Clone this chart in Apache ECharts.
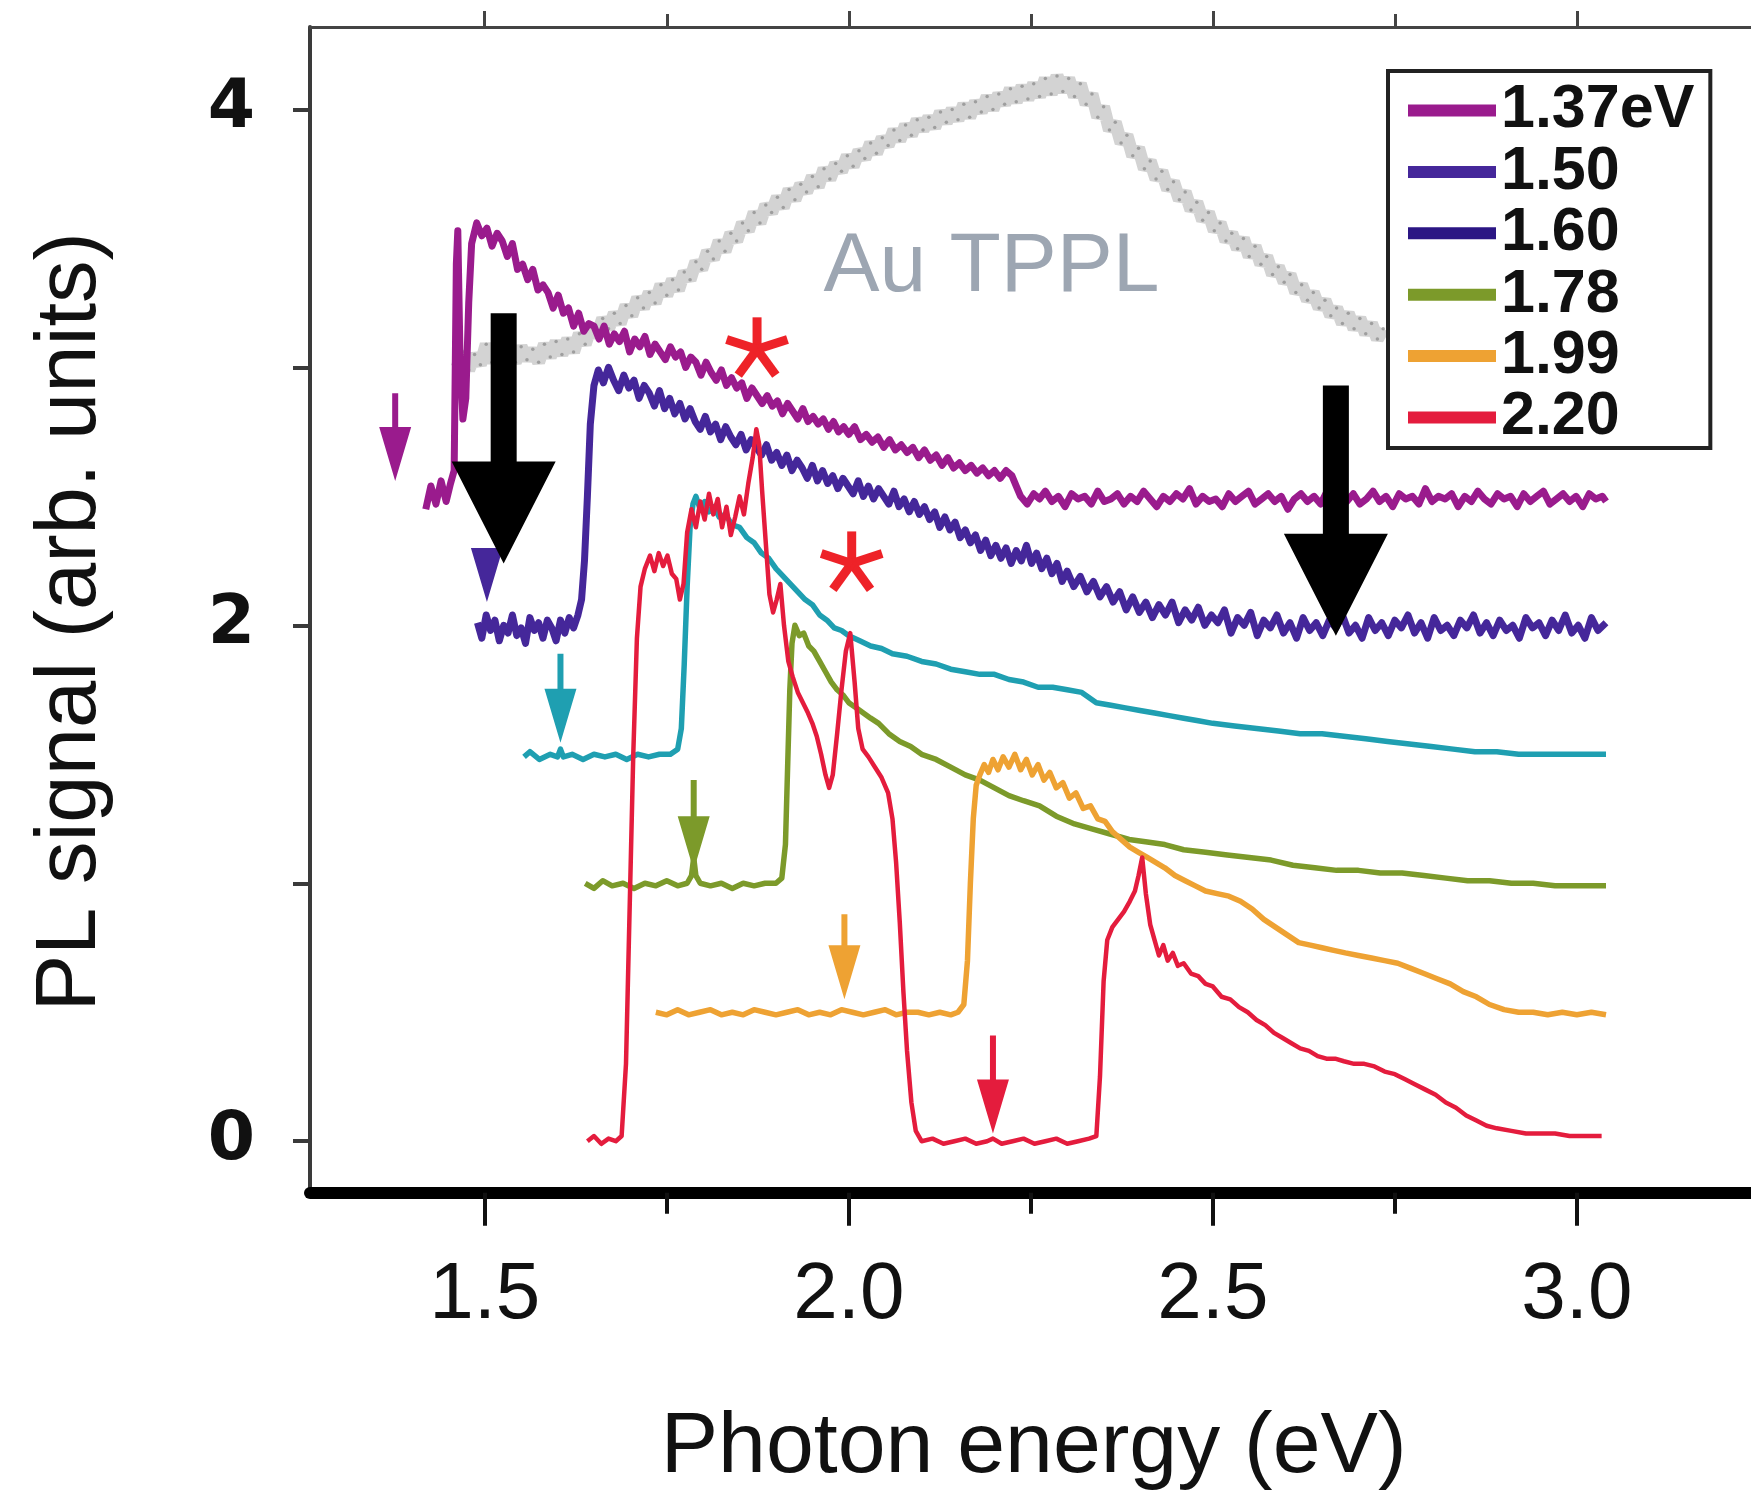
<!DOCTYPE html>
<html>
<head>
<meta charset="utf-8">
<script src="https://cdn.jsdelivr.net/npm/echarts@6/dist/echarts.min.js"></script>
<style>
  html, body { margin: 0; padding: 0; background: #fff; }
  #chart { width: 1751px; height: 1496px; }
</style>
</head>
<body>
<div id="chart"></div>
<script>
// axis ticks
const EV_TICKS = [1.5, 2.0, 2.5, 3.0];
const EV_MINOR = [1.75, 2.25, 2.75];
const PL_LABELS = [0, 2, 4];
const PL_TICKS = [0, 1, 2, 3, 4];

// excitation energies (legend names)
const SERIES_NAMES = ['1.37eV', '1.50', '1.60', '1.78', '1.99', '2.20'];

// PL spectra, [photon energy eV, signal]
const pl137 = [[1.419,2.45],[1.426,2.54],[1.433,2.47],[1.440,2.56],[1.447,2.48],[1.453,2.55],[1.458,2.60],[1.461,3.40],[1.463,3.53],[1.466,3.05],[1.470,2.80],[1.474,2.88],[1.478,3.25],[1.482,3.48],[1.489,3.56],[1.496,3.51],[1.503,3.54],[1.510,3.47],[1.517,3.52],[1.524,3.49],[1.531,3.43],[1.538,3.48],[1.545,3.38],[1.552,3.40],[1.559,3.34],[1.566,3.38],[1.573,3.30],[1.580,3.32],[1.587,3.29],[1.594,3.23],[1.601,3.28],[1.608,3.21],[1.615,3.23],[1.622,3.16],[1.629,3.21],[1.636,3.14],[1.643,3.17],[1.650,3.16],[1.657,3.11],[1.664,3.16],[1.671,3.09],[1.678,3.13],[1.685,3.10],[1.692,3.14],[1.699,3.06],[1.706,3.11],[1.713,3.08],[1.720,3.12],[1.727,3.05],[1.734,3.09],[1.741,3.06],[1.748,3.03],[1.755,3.08],[1.762,3.04],[1.769,3.06],[1.776,3.00],[1.783,3.04],[1.790,3.02],[1.797,2.97],[1.804,3.02],[1.811,2.98],[1.818,2.95],[1.825,2.99],[1.832,2.93],[1.839,2.96],[1.846,2.92],[1.853,2.94],[1.860,2.88],[1.867,2.92],[1.874,2.89],[1.881,2.86],[1.888,2.89],[1.895,2.85],[1.902,2.87],[1.909,2.82],[1.916,2.86],[1.923,2.83],[1.930,2.80],[1.937,2.84],[1.944,2.79],[1.951,2.81],[1.958,2.78],[1.965,2.80],[1.972,2.76],[1.979,2.79],[1.986,2.75],[1.993,2.77],[2.000,2.74],[2.008,2.77],[2.016,2.72],[2.024,2.74],[2.032,2.71],[2.040,2.73],[2.048,2.69],[2.056,2.72],[2.064,2.68],[2.072,2.70],[2.080,2.67],[2.088,2.69],[2.096,2.65],[2.104,2.68],[2.112,2.64],[2.120,2.66],[2.128,2.62],[2.136,2.65],[2.144,2.61],[2.152,2.63],[2.160,2.60],[2.168,2.62],[2.176,2.59],[2.184,2.61],[2.192,2.58],[2.200,2.60],[2.208,2.57],[2.216,2.60],[2.224,2.58],[2.230,2.54],[2.236,2.50],[2.245,2.47],[2.254,2.51],[2.262,2.49],[2.270,2.52],[2.279,2.48],[2.288,2.50],[2.297,2.46],[2.306,2.51],[2.315,2.49],[2.324,2.50],[2.333,2.47],[2.342,2.52],[2.351,2.48],[2.360,2.49],[2.369,2.51],[2.378,2.47],[2.387,2.50],[2.396,2.48],[2.405,2.52],[2.414,2.49],[2.423,2.46],[2.432,2.50],[2.441,2.48],[2.450,2.51],[2.459,2.49],[2.468,2.53],[2.477,2.47],[2.486,2.50],[2.495,2.48],[2.504,2.49],[2.513,2.46],[2.522,2.51],[2.531,2.48],[2.540,2.50],[2.549,2.52],[2.558,2.47],[2.567,2.49],[2.576,2.51],[2.585,2.48],[2.594,2.50],[2.603,2.45],[2.612,2.49],[2.621,2.51],[2.630,2.48],[2.639,2.50],[2.648,2.47],[2.657,2.52],[2.666,2.49],[2.675,2.50],[2.684,2.48],[2.693,2.51],[2.702,2.47],[2.711,2.49],[2.720,2.52],[2.729,2.48],[2.738,2.50],[2.747,2.46],[2.756,2.51],[2.765,2.49],[2.774,2.50],[2.783,2.47],[2.792,2.53],[2.801,2.48],[2.810,2.50],[2.819,2.49],[2.828,2.51],[2.837,2.46],[2.846,2.50],[2.855,2.48],[2.864,2.52],[2.873,2.49],[2.882,2.47],[2.891,2.51],[2.900,2.49],[2.909,2.50],[2.918,2.46],[2.927,2.51],[2.936,2.48],[2.945,2.50],[2.954,2.52],[2.963,2.47],[2.972,2.49],[2.981,2.51],[2.990,2.48],[2.999,2.50],[3.008,2.46],[3.017,2.51],[3.026,2.49],[3.035,2.50],[3.040,2.48]];

const pl150 = [[1.490,2.01],[1.496,1.95],[1.502,2.04],[1.508,1.98],[1.514,2.02],[1.520,1.94],[1.526,2.00],[1.532,1.97],[1.538,2.04],[1.544,1.96],[1.550,1.99],[1.556,1.93],[1.562,2.03],[1.568,1.98],[1.574,2.01],[1.580,1.95],[1.586,2.02],[1.592,1.99],[1.598,1.94],[1.604,2.02],[1.610,1.97],[1.616,2.03],[1.622,1.99],[1.628,2.04],[1.633,2.10],[1.637,2.25],[1.641,2.50],[1.645,2.78],[1.650,2.93],[1.656,2.99],[1.663,2.94],[1.670,3.00],[1.677,2.95],[1.684,2.91],[1.691,2.97],[1.698,2.92],[1.705,2.95],[1.712,2.88],[1.719,2.93],[1.726,2.90],[1.733,2.85],[1.740,2.91],[1.747,2.84],[1.754,2.88],[1.761,2.82],[1.768,2.86],[1.775,2.80],[1.782,2.84],[1.789,2.79],[1.796,2.76],[1.803,2.81],[1.810,2.75],[1.817,2.78],[1.824,2.72],[1.831,2.77],[1.838,2.73],[1.845,2.70],[1.852,2.74],[1.859,2.68],[1.866,2.72],[1.873,2.69],[1.880,2.66],[1.887,2.70],[1.894,2.64],[1.901,2.67],[1.908,2.62],[1.915,2.66],[1.922,2.60],[1.929,2.64],[1.936,2.61],[1.943,2.57],[1.950,2.62],[1.957,2.56],[1.964,2.60],[1.971,2.55],[1.978,2.58],[1.985,2.53],[1.992,2.57],[1.999,2.54],[2.006,2.51],[2.013,2.56],[2.020,2.50],[2.027,2.54],[2.034,2.49],[2.041,2.53],[2.048,2.50],[2.055,2.47],[2.062,2.52],[2.069,2.46],[2.076,2.49],[2.083,2.44],[2.090,2.48],[2.097,2.43],[2.104,2.46],[2.111,2.41],[2.118,2.44],[2.125,2.38],[2.132,2.42],[2.139,2.37],[2.146,2.40],[2.153,2.34],[2.160,2.37],[2.167,2.32],[2.174,2.35],[2.181,2.29],[2.188,2.33],[2.195,2.27],[2.202,2.31],[2.209,2.26],[2.216,2.30],[2.223,2.24],[2.230,2.29],[2.237,2.25],[2.244,2.31],[2.251,2.24],[2.258,2.28],[2.265,2.22],[2.272,2.26],[2.279,2.20],[2.286,2.24],[2.293,2.17],[2.300,2.21],[2.309,2.15],[2.318,2.19],[2.327,2.13],[2.336,2.17],[2.345,2.11],[2.354,2.15],[2.363,2.09],[2.372,2.13],[2.381,2.06],[2.390,2.11],[2.399,2.05],[2.408,2.09],[2.417,2.03],[2.426,2.08],[2.435,2.04],[2.444,2.09],[2.453,2.01],[2.462,2.06],[2.471,2.02],[2.480,2.07],[2.489,2.00],[2.498,2.04],[2.507,2.01],[2.516,2.06],[2.525,1.97],[2.534,2.03],[2.543,2.00],[2.552,2.05],[2.561,1.96],[2.570,2.02],[2.579,1.99],[2.588,2.04],[2.597,1.97],[2.606,2.01],[2.615,1.95],[2.624,2.03],[2.633,1.98],[2.642,2.01],[2.651,1.96],[2.660,2.02],[2.669,1.99],[2.678,2.04],[2.687,1.97],[2.696,2.00],[2.705,1.95],[2.714,2.03],[2.723,1.98],[2.732,2.01],[2.741,1.96],[2.750,2.02],[2.759,1.99],[2.768,2.04],[2.777,1.97],[2.786,2.01],[2.795,1.95],[2.804,2.03],[2.813,1.98],[2.822,2.00],[2.831,1.96],[2.840,2.02],[2.849,1.99],[2.858,2.04],[2.867,1.97],[2.876,2.01],[2.885,1.96],[2.894,2.02],[2.903,1.98],[2.912,2.00],[2.921,1.95],[2.930,2.03],[2.939,1.99],[2.948,2.01],[2.957,1.96],[2.966,2.02],[2.975,1.98],[2.984,2.04],[2.993,1.97],[3.002,2.00],[3.011,1.95],[3.020,2.03],[3.029,1.98],[3.040,2.01]];

const pl160 = [[1.554,1.49],[1.562,1.51],[1.575,1.48],[1.590,1.50],[1.600,1.49],[1.604,1.52],[1.608,1.49],[1.620,1.50],[1.635,1.48],[1.650,1.50],[1.665,1.49],[1.680,1.50],[1.695,1.48],[1.710,1.50],[1.725,1.49],[1.740,1.50],[1.755,1.50],[1.765,1.52],[1.770,1.60],[1.774,1.85],[1.778,2.15],[1.782,2.38],[1.786,2.47],[1.790,2.50],[1.796,2.45],[1.802,2.48],[1.808,2.44],[1.815,2.46],[1.822,2.42],[1.830,2.43],[1.840,2.39],[1.850,2.38],[1.860,2.34],[1.870,2.32],[1.880,2.28],[1.890,2.26],[1.900,2.22],[1.910,2.19],[1.920,2.16],[1.930,2.13],[1.940,2.10],[1.950,2.08],[1.960,2.04],[1.970,2.02],[1.980,1.99],[1.990,1.98],[2.000,1.96],[2.015,1.94],[2.030,1.92],[2.045,1.91],[2.060,1.89],[2.080,1.88],[2.100,1.86],[2.120,1.85],[2.140,1.83],[2.160,1.82],[2.180,1.81],[2.200,1.81],[2.220,1.79],[2.240,1.78],[2.260,1.76],[2.280,1.76],[2.300,1.75],[2.320,1.74],[2.340,1.70],[2.360,1.69],[2.380,1.68],[2.400,1.67],[2.420,1.66],[2.440,1.65],[2.460,1.64],[2.480,1.63],[2.500,1.62],[2.530,1.61],[2.560,1.60],[2.590,1.59],[2.620,1.58],[2.650,1.58],[2.680,1.57],[2.710,1.56],[2.740,1.55],[2.770,1.54],[2.800,1.53],[2.830,1.52],[2.860,1.51],[2.890,1.51],[2.920,1.50],[2.950,1.50],[2.980,1.50],[3.010,1.50],[3.040,1.50]];

const pl178 = [[1.638,1.00],[1.650,0.98],[1.662,1.01],[1.675,0.99],[1.690,1.00],[1.705,0.98],[1.720,1.00],[1.735,0.99],[1.750,1.01],[1.765,0.99],[1.778,1.00],[1.784,1.03],[1.787,1.10],[1.790,1.03],[1.796,1.00],[1.810,0.99],[1.825,1.00],[1.840,0.98],[1.855,1.00],[1.870,0.99],[1.885,1.00],[1.900,1.00],[1.908,1.02],[1.913,1.15],[1.916,1.45],[1.919,1.75],[1.922,1.93],[1.926,2.00],[1.932,1.96],[1.938,1.97],[1.945,1.92],[1.952,1.90],[1.960,1.86],[1.968,1.82],[1.976,1.78],[1.984,1.75],[1.992,1.73],[2.000,1.70],[2.010,1.68],[2.020,1.66],[2.030,1.64],[2.041,1.62],[2.055,1.58],[2.070,1.55],[2.085,1.53],[2.100,1.50],[2.120,1.48],[2.140,1.45],[2.160,1.42],[2.180,1.40],[2.200,1.37],[2.220,1.34],[2.240,1.32],[2.262,1.30],[2.285,1.26],[2.310,1.23],[2.335,1.21],[2.360,1.19],[2.385,1.17],[2.410,1.16],[2.434,1.15],[2.460,1.13],[2.490,1.12],[2.520,1.11],[2.550,1.10],[2.580,1.09],[2.610,1.07],[2.640,1.06],[2.670,1.05],[2.700,1.05],[2.730,1.04],[2.760,1.04],[2.790,1.03],[2.820,1.02],[2.850,1.01],[2.880,1.01],[2.910,1.00],[2.940,1.00],[2.970,0.99],[3.000,0.99],[3.040,0.99]];

const pl199 = [[1.735,0.50],[1.750,0.49],[1.765,0.51],[1.780,0.49],[1.795,0.50],[1.810,0.51],[1.825,0.49],[1.840,0.50],[1.855,0.49],[1.870,0.51],[1.885,0.50],[1.900,0.49],[1.915,0.50],[1.930,0.51],[1.945,0.49],[1.960,0.50],[1.975,0.49],[1.990,0.51],[2.005,0.50],[2.020,0.49],[2.035,0.50],[2.050,0.51],[2.065,0.49],[2.080,0.50],[2.095,0.50],[2.110,0.49],[2.125,0.50],[2.140,0.49],[2.150,0.50],[2.158,0.53],[2.163,0.70],[2.167,1.00],[2.171,1.25],[2.175,1.38],[2.180,1.42],[2.186,1.46],[2.192,1.43],[2.198,1.48],[2.205,1.44],[2.212,1.49],[2.220,1.45],[2.228,1.50],[2.236,1.44],[2.244,1.48],[2.252,1.42],[2.260,1.46],[2.268,1.40],[2.276,1.43],[2.285,1.37],[2.294,1.39],[2.303,1.33],[2.312,1.35],[2.322,1.29],[2.332,1.30],[2.342,1.25],[2.352,1.24],[2.362,1.20],[2.374,1.17],[2.386,1.14],[2.398,1.12],[2.410,1.10],[2.422,1.08],[2.434,1.06],[2.448,1.03],[2.462,1.01],[2.476,0.99],[2.490,0.97],[2.506,0.96],[2.522,0.95],[2.538,0.93],[2.554,0.90],[2.570,0.86],[2.586,0.83],[2.602,0.80],[2.618,0.77],[2.634,0.76],[2.650,0.75],[2.666,0.74],[2.682,0.73],[2.700,0.72],[2.718,0.71],[2.736,0.70],[2.754,0.69],[2.772,0.67],[2.790,0.65],[2.808,0.63],[2.826,0.61],[2.844,0.58],[2.862,0.56],[2.880,0.53],[2.900,0.51],[2.920,0.50],[2.940,0.50],[2.960,0.49],[2.980,0.50],[3.000,0.49],[3.020,0.50],[3.040,0.49]];

const pl220 = [[1.641,0.00],[1.650,0.02],[1.660,-0.01],[1.670,0.01],[1.680,0.00],[1.688,0.02],[1.694,0.30],[1.699,0.90],[1.704,1.50],[1.709,1.95],[1.714,2.15],[1.720,2.22],[1.727,2.27],[1.733,2.21],[1.739,2.28],[1.745,2.23],[1.751,2.27],[1.757,2.20],[1.763,2.18],[1.768,2.10],[1.773,2.16],[1.778,2.36],[1.784,2.45],[1.790,2.38],[1.796,2.48],[1.802,2.41],[1.808,2.51],[1.814,2.43],[1.820,2.49],[1.826,2.38],[1.832,2.46],[1.838,2.35],[1.844,2.42],[1.850,2.50],[1.856,2.43],[1.862,2.55],[1.868,2.65],[1.873,2.76],[1.877,2.70],[1.881,2.52],[1.886,2.32],[1.891,2.12],[1.896,2.05],[1.901,2.10],[1.906,2.16],[1.911,2.00],[1.917,1.86],[1.923,1.80],[1.930,1.74],[1.937,1.70],[1.944,1.66],[1.950,1.62],[1.956,1.57],[1.962,1.50],[1.968,1.42],[1.973,1.37],[1.978,1.42],[1.984,1.58],[1.990,1.75],[1.996,1.90],[2.002,1.97],[2.008,1.78],[2.013,1.60],[2.019,1.52],[2.027,1.49],[2.036,1.45],[2.045,1.41],[2.054,1.35],[2.060,1.25],[2.065,1.08],[2.070,0.85],[2.075,0.58],[2.080,0.35],[2.086,0.15],[2.092,0.04],[2.100,0.00],[2.115,0.01],[2.130,-0.01],[2.145,0.00],[2.160,0.01],[2.175,-0.01],[2.190,0.00],[2.198,0.01],[2.210,-0.01],[2.225,0.00],[2.240,0.01],[2.255,-0.01],[2.270,0.00],[2.285,0.01],[2.300,-0.01],[2.315,0.00],[2.330,0.01],[2.340,0.02],[2.345,0.25],[2.350,0.62],[2.355,0.78],[2.362,0.83],[2.370,0.86],[2.378,0.89],[2.386,0.93],[2.393,0.97],[2.398,1.03],[2.403,1.10],[2.408,0.96],[2.414,0.84],[2.420,0.78],[2.426,0.72],[2.432,0.76],[2.438,0.70],[2.445,0.73],[2.452,0.68],[2.460,0.69],[2.470,0.65],[2.480,0.64],[2.490,0.61],[2.500,0.60],[2.512,0.56],[2.524,0.55],[2.536,0.52],[2.548,0.50],[2.560,0.47],[2.572,0.45],[2.584,0.42],[2.596,0.40],[2.608,0.38],[2.620,0.36],[2.632,0.35],[2.644,0.33],[2.656,0.32],[2.668,0.32],[2.680,0.31],[2.694,0.30],[2.708,0.30],[2.722,0.29],[2.736,0.27],[2.750,0.26],[2.764,0.24],[2.778,0.22],[2.792,0.20],[2.806,0.18],[2.820,0.15],[2.834,0.13],[2.848,0.10],[2.862,0.08],[2.876,0.06],[2.890,0.05],[2.910,0.04],[2.930,0.03],[2.950,0.03],[2.970,0.03],[2.990,0.02],[3.010,0.02],[3.034,0.02]];

// Au two-photon PL (grey scatter)
const tppl = [[1.462,3.00],[1.470,3.06],[1.478,2.99],[1.486,3.05],[1.494,3.01],[1.502,3.09],[1.510,3.02],[1.518,3.07],[1.526,3.00],[1.534,3.06],[1.542,3.02],[1.550,3.08],[1.558,3.03],[1.566,3.07],[1.574,3.02],[1.582,3.09],[1.590,3.04],[1.598,3.10],[1.606,3.05],[1.614,3.11],[1.622,3.06],[1.630,3.13],[1.638,3.09],[1.646,3.16],[1.654,3.12],[1.662,3.19],[1.670,3.15],[1.678,3.21],[1.686,3.17],[1.694,3.24],[1.702,3.20],[1.710,3.27],[1.718,3.23],[1.726,3.29],[1.734,3.25],[1.742,3.32],[1.750,3.28],[1.758,3.34],[1.766,3.30],[1.774,3.37],[1.782,3.34],[1.790,3.41],[1.798,3.38],[1.806,3.45],[1.814,3.42],[1.822,3.49],[1.830,3.45],[1.838,3.52],[1.846,3.49],[1.854,3.56],[1.862,3.53],[1.870,3.60],[1.878,3.56],[1.886,3.63],[1.894,3.60],[1.902,3.66],[1.910,3.62],[1.918,3.69],[1.926,3.65],[1.934,3.71],[1.942,3.68],[1.950,3.74],[1.958,3.70],[1.966,3.77],[1.974,3.73],[1.982,3.79],[1.990,3.76],[1.998,3.82],[2.006,3.78],[2.014,3.84],[2.022,3.81],[2.030,3.87],[2.038,3.83],[2.046,3.89],[2.054,3.86],[2.062,3.92],[2.070,3.88],[2.078,3.94],[2.086,3.90],[2.094,3.96],[2.102,3.92],[2.110,3.97],[2.118,3.93],[2.126,3.99],[2.134,3.95],[2.142,4.00],[2.150,3.96],[2.158,4.02],[2.166,3.97],[2.174,4.03],[2.182,3.99],[2.190,4.05],[2.198,4.00],[2.206,4.06],[2.214,4.02],[2.222,4.08],[2.230,4.03],[2.238,4.09],[2.246,4.04],[2.254,4.10],[2.262,4.05],[2.270,4.12],[2.278,4.06],[2.286,4.13],[2.294,4.07],[2.302,4.12],[2.310,4.05],[2.318,4.10],[2.326,4.02],[2.334,4.06],[2.342,3.97],[2.350,4.01],[2.358,3.92],[2.366,3.95],[2.374,3.87],[2.382,3.90],[2.390,3.82],[2.398,3.85],[2.406,3.77],[2.414,3.80],[2.422,3.73],[2.430,3.76],[2.438,3.69],[2.446,3.72],[2.454,3.65],[2.462,3.68],[2.470,3.61],[2.478,3.64],[2.486,3.57],[2.494,3.60],[2.502,3.53],[2.510,3.56],[2.518,3.49],[2.526,3.52],[2.534,3.46],[2.542,3.50],[2.550,3.43],[2.558,3.47],[2.566,3.40],[2.574,3.43],[2.582,3.36],[2.590,3.39],[2.598,3.33],[2.606,3.36],[2.614,3.29],[2.622,3.32],[2.630,3.26],[2.638,3.29],[2.646,3.23],[2.654,3.26],[2.662,3.20],[2.670,3.23],[2.678,3.17],[2.686,3.21],[2.694,3.15],[2.702,3.19],[2.710,3.13],[2.718,3.17],[2.726,3.11],[2.734,3.15]];
const TPPL_LABEL = 'Au TPPL';
const tpplLabelPos = [2.196, 3.385];

// excitation markers (small coloured arrows): energy, arrow top, arrow tip
const excEV = [1.377, 1.503, 1.604, 1.787, 1.994, 2.198];
const excTop = [2.90, 2.30, 1.89, 1.40, 0.88, 0.41];
const excTip = [2.56, 2.09, 1.545, 1.05, 0.55, 0.03];

// big black arrows
const bigEV = [1.526, 2.669];
const bigTop = [3.21, 2.93];
const bigTip = [2.24, 1.96];

// asterisks on the sharp peaks
const starEV = [1.874, 2.004];
const starPL = [3.07, 2.24];

// styles
const LINE_COLORS = ['#9a1b8d', '#45279a', '#1f9fb1', '#7c9a2a', '#eea233', '#e41c3d'];
const LEGEND_COLORS = ['#9a1b8d', '#45279a', '#2b1684', '#7c9a2a', '#eea233', '#e41c3d'];
const LINE_WIDTHS = [7, 7, 5.5, 5.5, 5.5, 4.5];
const FONT = '"Liberation Sans", Arial, sans-serif';

const chart = echarts.init(document.getElementById('chart'), null, { renderer: 'canvas' });

function arrowSeries(xs, tops, tips, colors, shaftW, headW, headL, z) {
  return {
    type: 'custom',
    coordinateSystem: 'cartesian2d',
    silent: true,
    z: z,
    data: xs.map((x, i) => [x, tops[i], tips[i]]),
    encode: { x: 0, y: [1, 2] },
    renderItem: (params, api) => {
      const a = api.coord([api.value(0), api.value(1)]);
      const b = api.coord([api.value(0), api.value(2)]);
      const x = a[0], hb = b[1] - headL;
      return {
        type: 'polygon',
        shape: { points: [[x - shaftW / 2, a[1]], [x + shaftW / 2, a[1]], [x + shaftW / 2, hb],
          [x + headW / 2, hb], [x, b[1]], [x - headW / 2, hb], [x - shaftW / 2, hb]] },
        style: { fill: colors[params.dataIndex % colors.length] }
      };
    }
  };
}

const lineSeries = SERIES_NAMES.map((name, i) => ({
  name: name,
  type: 'line',
  data: [pl137, pl150, pl160, pl178, pl199, pl220][i],
  showSymbol: false,
  symbol: 'none',
  color: LINE_COLORS[i],
  lineStyle: { width: LINE_WIDTHS[i], color: LINE_COLORS[i], join: 'round' },
  z: 3 + i * 0.1
}));

const series = [
  {
    name: TPPL_LABEL,
    type: 'line',
    data: tppl,
    symbol: 'circle',
    symbolSize: 3.5,
    showSymbol: true,
    itemStyle: { color: '#8c8c8c', opacity: 0.75 },
    lineStyle: { width: 13, color: 'rgba(145,145,145,0.4)' },
    z: 2
  },
  ...lineSeries,
  arrowSeries(excEV, excTop, excTip, LINE_COLORS, 6, 32, 54, 6),
  arrowSeries(bigEV, bigTop, bigTip, ['#000'], 26, 104, 102, 8),
  {
    type: 'custom',
    coordinateSystem: 'cartesian2d',
    silent: true,
    z: 7,
    data: starEV.map((x, i) => [x, starPL[i]]),
    encode: { x: 0, y: 1 },
    renderItem: (params, api) => {
      const c = api.coord([api.value(0), api.value(1)]);
      const R = 32;
      return {
        type: 'group',
        children: [-90, -18, 54, 126, 198].map(deg => {
          const r = deg * Math.PI / 180;
          return { type: 'line', shape: { x1: c[0], y1: c[1], x2: c[0] + R * Math.cos(r), y2: c[1] + R * Math.sin(r) },
            style: { stroke: '#ee2228', lineWidth: 9 } };
        })
      };
    }
  },
  {
    type: 'custom',
    coordinateSystem: 'cartesian2d',
    silent: true,
    z: 7,
    data: [tpplLabelPos],
    encode: { x: 0, y: 1 },
    renderItem: (params, api) => {
      const c = api.coord([api.value(0), api.value(1)]);
      return { type: 'text', x: c[0], y: c[1],
        style: { text: TPPL_LABEL, fill: '#9da6b2', font: '84px ' + FONT, align: 'center', verticalAlign: 'middle' } };
    }
  }
];

const hiddenLabel = { show: false };
const option = {
  animation: false,
  backgroundColor: '#ffffff',
  grid: { left: 310, right: -44.3, top: 26.9, bottom: 303.2, outerBoundsMode: 'none', containLabel: false },
  legend: {
    orient: 'vertical',
    left: 1388,
    top: 71,
    padding: [9, 16, 0, 20],
    itemGap: 0.4,
    itemWidth: 88,
    itemHeight: 12,
    icon: 'rect',
    selectedMode: false,
    backgroundColor: '#fff',
    borderColor: '#222',
    borderWidth: 4,
    borderRadius: 0,
    textStyle: { fontSize: 61, fontWeight: 'bold', color: '#111', fontFamily: FONT },
    data: SERIES_NAMES.map((n, i) => ({ name: n, itemStyle: { color: LEGEND_COLORS[i], borderWidth: 0 } }))
  },
  xAxis: [
    {
      type: 'value', position: 'bottom', min: 1.26, max: 3.3,
      name: 'Photon energy (eV)', nameLocation: 'middle', nameGap: 212,
      nameTextStyle: { fontSize: 86, fontFamily: FONT, color: '#111', padding: [0, 38, 0, 0] },
      axisLine: { onZero: false, lineStyle: { color: '#000', width: 12 } },
      axisTick: { customValues: EV_TICKS, length: 33, lineStyle: { color: '#111', width: 4 } },
      axisLabel: { customValues: EV_TICKS, formatter: v => v.toFixed(1), margin: 63, fontSize: 80,
        fontFamily: '"Liberation Sans Narrow", "Liberation Sans", sans-serif', color: '#111' },
      splitLine: { show: false }
    },
    {
      type: 'value', position: 'bottom', min: 1.26, max: 3.3,
      axisLine: { show: false, onZero: false },
      axisTick: { customValues: EV_MINOR, length: 21, lineStyle: { color: '#111', width: 4 } },
      axisLabel: hiddenLabel, splitLine: { show: false }
    },
    {
      type: 'value', position: 'top', min: 1.26, max: 3.3,
      axisLine: { onZero: false, lineStyle: { color: '#444', width: 3 } },
      axisTick: { customValues: EV_TICKS, length: 16, lineStyle: { color: '#444', width: 3 } },
      axisLabel: hiddenLabel, splitLine: { show: false }
    },
    {
      type: 'value', position: 'top', min: 1.26, max: 3.3,
      axisLine: { show: false, onZero: false },
      axisTick: { customValues: EV_MINOR, length: 13, lineStyle: { color: '#444', width: 3 } },
      axisLabel: hiddenLabel, splitLine: { show: false }
    }
  ],
  yAxis: {
    type: 'value', min: -0.2, max: 4.32,
    name: 'PL signal (arb. units)', nameLocation: 'middle', nameRotate: 90, nameGap: 196,
    nameTextStyle: { fontSize: 85, fontFamily: FONT, color: '#111', padding: [0, 24, 0, 0] },
    axisLine: { onZero: false, lineStyle: { color: '#3a3a3a', width: 4 } },
    axisTick: { customValues: PL_TICKS, length: 17, lineStyle: { color: '#3a3a3a', width: 4 } },
    axisLabel: { customValues: PL_LABELS, margin: 55, fontSize: 68, fontWeight: 'bold',
      fontFamily: '"DejaVu Sans", sans-serif', color: '#111' },
    splitLine: { show: false }
  },
  series: series
};

chart.setOption(option);
</script>
</body>
</html>
